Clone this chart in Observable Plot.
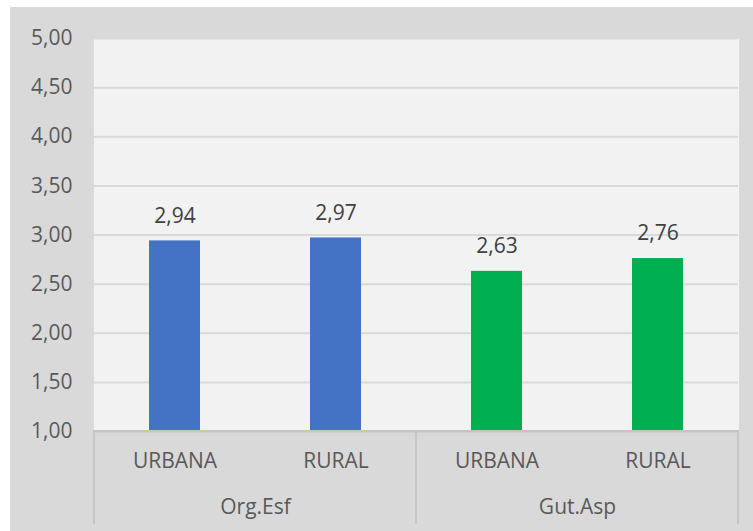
<!DOCTYPE html>
<html>
<head>
<meta charset="utf-8">
<script src="https://cdn.jsdelivr.net/npm/d3@7"></script>
<script src="https://cdn.jsdelivr.net/npm/@observablehq/plot@0.6"></script>
<style>
  html, body { margin: 0; padding: 0; background: #ffffff; }
  #chart { position: absolute; left: 10px; top: 7px; width: 743px; height: 524px; background: #d9d9d9; }
  #chart svg { display: block; }
</style>
</head>
<body>
<div id="chart"></div>
<script>
const groups = ["Org.Esf", "Org.Esf", "Gut.Asp", "Gut.Asp"];
const zones = ["URBANA", "RURAL", "URBANA", "RURAL"];
const values = [2.94, 2.97, 2.63, 2.76];
const groupDomain = ["Org.Esf", "Gut.Asp"];
const zoneDomain = ["URBANA", "RURAL"];
const groupColors = ["#4472c4", "#00b050"];
const yTicks = [1, 1.5, 2, 2.5, 3, 3.5, 4, 4.5, 5];

const data = values.map((v, i) => ({group: groups[i], zone: zones[i], value: v}));
const fmt = d => d.toFixed(2).replace(".", ",");

const chart = Plot.plot({
  width: 743,
  height: 517,
  marginLeft: 83,
  marginRight: 15,
  marginTop: 31,
  marginBottom: 93,
  style: {background: "#d9d9d9", fontFamily: "'Open Sans', sans-serif", overflow: "hidden"},
  fx: {domain: groupDomain, padding: 0, axis: null},
  x: {domain: zoneDomain, paddingInner: 0.684, paddingOuter: 0.342, axis: null},
  y: {domain: [1, 5], axis: null},
  color: {domain: groupDomain, range: groupColors},
  marks: [
    Plot.frame({fill: "#f2f2f2", stroke: "none", insetLeft: -0.6, insetRight: -0.6}),
    Plot.gridY(yTicks.slice(1), {stroke: "#d9d9d9", strokeWidth: 2, strokeOpacity: 1}),
    Plot.barY(data, {fx: "group", x: "zone", y1: 1, y2: "value", fill: "group"}),
    Plot.text(data, {fx: "group", x: "zone", y: "value", text: d => fmt(d.value), dy: -25, fill: "#404040", fontSize: 21}),
    Plot.rect([0], {fill: "none", stroke: "#c6c6c6", strokeWidth: 2, insetTop: 393, insetBottom: -110}),
    Plot.ruleY([1], {stroke: "#c4c4c4", strokeWidth: 2}),
    Plot.axisY({ticks: yTicks, tickSize: 0, tickPadding: 22, tickFormat: fmt, fontSize: 21, fill: "#595959", label: null}),
    Plot.axisX({tickSize: 0, tickPadding: 22, fontSize: 21, fill: "#595959", label: null}),
    Plot.axisFx({anchor: "bottom", tickSize: 0, tickPadding: 68, fontSize: 21, fill: "#595959", label: null})
  ]
});
document.getElementById("chart").appendChild(chart);
</script>
</body>
</html>
